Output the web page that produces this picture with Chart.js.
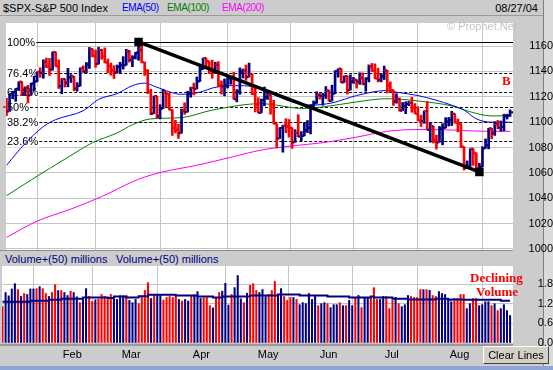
<!DOCTYPE html>
<html>
<head>
<meta charset="utf-8">
<title>$SPX-S&amp;P 500 Index</title>
<script src="https://cdn.jsdelivr.net/npm/chart.js@4.4.1/dist/chart.umd.min.js"></script>
<style>
  html, body { margin: 0; padding: 0; }
  body { width: 553px; height: 370px; background: #cccccc; position: relative; overflow: hidden;
         font-family: "Liberation Sans", Arial, sans-serif; font-size: 11px; color: #000; }
  .lbl { position: absolute; white-space: nowrap; line-height: 14px; }
  .ema { font-size: 10px; letter-spacing: -0.4px; }
  canvas { position: absolute; left: 0; }
  #topbar { position: absolute; left: 0; top: 0; width: 543px; height: 15px; border-bottom: 1px solid #9a9a9a; }
  #midline { position: absolute; left: 0; top: 250px; width: 513px; height: 1px; background: #8c8c8c; }
  #botline { position: absolute; left: 0; top: 344px; width: 513px; height: 2px; background: #9a9a9a; }
  #rightstrip { position: absolute; left: 543px; top: 0; width: 10px; height: 370px; background: #dadada; border-left: 1px solid #808080; }
  #bottomstrip { position: absolute; left: 0; top: 366px; width: 553px; height: 4px; background: #8fa6d4; }
  .serif { font-family: "Liberation Serif", "Times New Roman", serif; font-weight: bold; color: #ff0000; font-size: 13px; }
  #clear { position: absolute; left: 483px; top: 346px; width: 64px; height: 16px; background: #d4d0c8;
           border-top: 1px solid #fff; border-left: 1px solid #fff; border-right: 1px solid #404040; border-bottom: 1px solid #404040;
           text-align: center; line-height: 16px; font-size: 11px; }
</style>
</head>
<body>
<div id="topbar"></div>
<div id="midline"></div>
<div id="botline"></div>
<div id="rightstrip"></div>
<div id="bottomstrip"></div>

<div class="lbl" style="left:3px;top:1px">$SPX-S&amp;P 500 Index</div>
<div class="lbl ema" style="left:122px;top:1px;color:#0000ff">EMA(50)</div>
<div class="lbl ema" style="left:167px;top:1px;color:#008000">EMA(100)</div>
<div class="lbl ema" style="left:222px;top:1px;color:#ff00ff">EMA(200)</div>
<div class="lbl" style="right:15px;top:1px">08/27/04</div>
<div class="lbl" style="left:5px;top:252px;color:#000080">Volume+(50) millions</div>
<div class="lbl" style="left:116px;top:252px;color:#000080">Volume+(50) millions</div>

<canvas id="priceChart" width="553" height="245" style="top:17px"></canvas>
<canvas id="volChart" width="553" height="108" style="top:262px"></canvas>

<div class="lbl" style="left:447px;top:19px;color:#c4c4c4">&copy; Prophet.Net</div>
<div class="lbl serif" style="left:502px;top:74px">B</div>
<div class="lbl serif" style="left:470px;top:271px">Declining</div>
<div class="lbl serif" style="left:476px;top:285px">Volume</div>
<div id="clear">Clear Lines</div>

<script>
// daily bars, 2 Jan 2004 .. 27 Aug 2004 (index 0..164)
const opens = [
  1111.92, 1108.48, 1122.22, 1123.67, 1126.33, 1131.92, 1121.86, 1127.23, 1121.22, 1130.52, 1132.05, 1139.83, 1138.77, 1147.62, 1143.94, 1141.55, 1155.37, 1144.05, 1128.48, 1134.11,
  1131.13, 1135.26, 1136.03, 1126.52, 1128.59, 1142.76, 1139.81, 1145.54, 1157.76, 1152.11, 1145.81, 1156.99, 1151.82, 1147.06, 1144.11, 1140.99, 1139.09, 1143.67, 1144.91,
  1144.94, 1155.97, 1149.10, 1151.03, 1154.87, 1156.86, 1147.20, 1140.58, 1123.89, 1106.78, 1120.57, 1104.49, 1110.70, 1123.75, 1122.32, 1109.78, 1095.40, 1093.95, 1091.33, 1109.19, 1108.06, 1122.47, 1127.00,
  1126.21, 1132.17, 1141.81, 1150.57, 1148.16, 1140.53, 1139.32, 1145.20, 1129.44, 1128.17, 1128.84, 1134.61, 1135.82, 1118.15, 1124.09, 1139.93, 1140.60, 1135.53, 1138.11, 1122.41, 1113.89,
  1107.30, 1117.49, 1119.55, 1121.53, 1113.99, 1098.70, 1087.12, 1095.45, 1097.28, 1096.44, 1095.70, 1084.10, 1091.49, 1088.68, 1089.19, 1093.56, 1095.41, 1113.05, 1114.94, 1121.28,
  1120.68, 1121.20, 1124.99, 1116.64, 1122.50, 1140.42, 1142.18, 1131.33, 1136.47, 1125.29, 1132.01, 1133.56, 1132.05, 1135.02, 1130.30, 1134.41, 1144.06, 1140.65, 1134.43, 1133.35, 1136.20,
  1140.84, 1128.94, 1125.38, 1116.21, 1118.33, 1109.11, 1112.81, 1114.35, 1115.14, 1111.47, 1106.69, 1101.39, 1100.90, 1108.67, 1093.88, 1096.84, 1086.20, 1084.07, 1094.83, 1095.42, 1100.43,
  1101.72, 1106.62, 1099.69, 1098.63, 1080.70, 1063.97, 1065.22, 1079.04, 1075.79, 1063.23, 1064.80, 1079.34, 1081.71, 1095.17, 1091.23, 1098.35, 1095.68, 1096.19, 1104.96, 1105.09
];
const highs = [
  1118.85, 1122.22, 1124.46, 1126.33, 1131.92, 1131.92, 1127.85, 1129.07, 1130.75, 1136.23, 1139.83, 1142.93, 1149.21, 1150.51, 1150.31, 1155.38, 1155.37, 1149.14, 1134.39, 1134.17,
  1142.45, 1137.44, 1136.03, 1131.17, 1142.79, 1144.46, 1147.02, 1158.89, 1157.76, 1156.88, 1158.98, 1157.40, 1158.57, 1149.81, 1146.69, 1144.54, 1145.08, 1147.23, 1151.68,
  1157.45, 1156.54, 1152.44, 1154.97, 1163.23, 1159.94, 1147.32, 1141.45, 1125.96, 1120.63, 1120.57, 1113.76, 1125.76, 1123.75, 1122.72, 1109.78, 1101.52, 1098.32, 1110.38, 1115.27, 1124.37, 1127.60, 1130.83,
  1135.67, 1144.81, 1150.57, 1150.57, 1148.16, 1148.97, 1147.29, 1147.78, 1132.52, 1134.08, 1136.80, 1136.18, 1139.26, 1125.72, 1142.77, 1141.92, 1145.08, 1146.56, 1138.11, 1128.80, 1119.26,
  1118.22, 1127.74, 1125.07, 1121.53, 1117.30, 1098.70, 1095.71, 1097.55, 1102.77, 1102.10, 1095.70, 1094.10, 1105.93, 1092.62, 1099.64, 1101.28, 1113.80, 1116.71, 1123.95, 1122.69,
  1122.70, 1128.10, 1125.31, 1129.17, 1140.54, 1142.18, 1142.18, 1136.47, 1136.47, 1137.36, 1135.28, 1133.56, 1138.96, 1138.91, 1135.05, 1145.15, 1146.34, 1145.97, 1142.60, 1138.26, 1144.20,
  1140.84, 1131.72, 1125.38, 1122.37, 1119.12, 1115.57, 1116.11, 1116.30, 1119.60, 1114.63, 1112.17, 1105.52, 1108.88, 1116.27, 1099.66, 1096.84, 1089.82, 1096.65, 1098.84, 1103.51, 1103.73,
  1108.60, 1106.62, 1102.45, 1098.79, 1080.70, 1069.46, 1079.04, 1079.04, 1075.79, 1067.58, 1080.66, 1086.78, 1095.17, 1095.17, 1100.26, 1101.40, 1100.94, 1106.29, 1106.29, 1109.68
];
const lows = [
  1105.08, 1108.48, 1118.44, 1116.45, 1124.91, 1120.90, 1120.90, 1115.19, 1121.22, 1124.51, 1132.05, 1135.40, 1134.62, 1143.01, 1136.85, 1141.00, 1144.05, 1126.50, 1122.38, 1127.73,
  1127.87, 1131.33, 1124.74, 1124.44, 1128.39, 1139.21, 1138.70, 1142.33, 1151.44, 1143.24, 1145.81, 1149.54, 1146.85, 1139.00, 1136.98, 1134.43, 1138.64, 1138.62, 1141.80,
  1144.94, 1147.31, 1143.78, 1149.81, 1148.77, 1146.97, 1136.84, 1122.53, 1105.87, 1106.78, 1103.36, 1102.61, 1110.70, 1111.91, 1109.69, 1089.54, 1091.57, 1087.16, 1091.33, 1106.13, 1108.06, 1119.66, 1121.46,
  1126.20, 1132.17, 1141.64, 1143.30, 1138.41, 1134.52, 1139.32, 1127.70, 1122.15, 1120.75, 1126.90, 1129.84, 1118.09, 1116.03, 1121.95, 1134.81, 1132.91, 1135.53, 1121.70, 1108.04, 1107.23,
  1107.30, 1112.89, 1117.90, 1106.30, 1098.63, 1079.63, 1087.12, 1076.32, 1091.76, 1088.24, 1079.36, 1084.10, 1088.49, 1085.43, 1089.19, 1091.77, 1090.74, 1109.91, 1114.86, 1118.10,
  1113.32, 1118.64, 1116.57, 1116.64, 1122.50, 1135.45, 1131.17, 1131.33, 1122.16, 1125.29, 1130.55, 1126.89, 1129.83, 1129.43, 1124.37, 1131.73, 1139.94, 1134.24, 1131.72, 1131.81, 1133.62,
  1123.06, 1124.12, 1113.21, 1114.92, 1108.72, 1109.11, 1106.71, 1112.99, 1107.83, 1106.67, 1101.07, 1096.55, 1099.10, 1093.88, 1084.16, 1083.56, 1078.78, 1084.07, 1082.17, 1095.42, 1096.96,
  1097.34, 1099.26, 1092.40, 1079.98, 1062.23, 1063.97, 1065.22, 1065.92, 1062.82, 1060.72, 1064.80, 1079.34, 1078.93, 1086.91, 1089.57, 1094.73, 1092.82, 1093.24, 1102.46, 1104.62
];
const closes = [
  1108.48, 1122.22, 1123.67, 1126.33, 1131.92, 1121.86, 1127.23, 1121.22, 1130.52, 1132.05, 1139.83, 1138.77, 1147.62, 1143.94, 1141.55, 1155.37, 1144.05, 1128.48, 1134.11, 1131.13,
  1135.26, 1136.03, 1126.52, 1128.59, 1142.76, 1139.81, 1145.54, 1157.76, 1152.11, 1145.81, 1156.99, 1151.82, 1147.06, 1144.11, 1140.99, 1139.09, 1143.67, 1144.91, 1144.94,
  1155.97, 1149.10, 1151.03, 1154.87, 1156.86, 1147.20, 1140.58, 1123.89, 1106.78, 1120.57, 1104.49, 1110.70, 1123.75, 1122.32, 1109.78, 1095.40, 1093.95, 1091.33, 1109.19, 1108.06, 1122.47, 1127.00, 1126.21,
  1132.17, 1141.81, 1150.57, 1148.16, 1140.53, 1139.32, 1145.20, 1129.44, 1128.17, 1128.84, 1134.61, 1135.82, 1118.15, 1124.09, 1139.93, 1140.60, 1135.53, 1138.11, 1122.41, 1113.89, 1107.30,
  1117.49, 1119.55, 1121.53, 1113.99, 1098.70, 1087.12, 1095.45, 1097.28, 1096.44, 1095.70, 1084.10, 1091.49, 1088.68, 1089.19, 1093.56, 1095.41, 1113.05, 1114.94, 1121.28, 1120.68,
  1121.20, 1124.99, 1116.64, 1122.50, 1140.42, 1142.18, 1131.33, 1136.47, 1125.29, 1132.01, 1133.56, 1132.05, 1135.02, 1130.30, 1134.41, 1144.06, 1140.65, 1134.43, 1133.35, 1136.20, 1140.84,
  1128.94, 1125.38, 1116.21, 1118.33, 1109.11, 1112.81, 1114.35, 1115.14, 1111.47, 1106.69, 1101.39, 1100.90, 1108.67, 1093.88, 1096.84, 1086.20, 1084.07, 1094.83, 1095.42, 1100.43, 1101.72,
  1106.62, 1099.69, 1098.63, 1080.70, 1063.97, 1065.22, 1079.04, 1075.79, 1063.23, 1064.80, 1079.34, 1081.71, 1095.17, 1091.23, 1098.35, 1095.68, 1096.19, 1104.96, 1105.09, 1107.77
];
// volume in billions of shares
const volumes = [
  1.11, 1.54, 1.44, 1.65, 1.81, 1.63, 1.42, 1.51, 1.48, 1.65, 1.65, 1.66, 1.72, 1.66, 1.51, 1.42, 1.54, 1.78, 1.60, 1.60,
  1.54, 1.45, 1.58, 1.54, 1.41, 1.23, 1.34, 1.66, 1.42, 1.27, 1.32, 1.34, 1.48, 1.42, 1.39, 1.48, 1.34, 1.33, 1.44,
  1.44, 1.44, 1.30, 1.23, 1.33, 1.20, 1.43, 1.60, 1.84, 1.36, 1.45, 1.45, 1.45, 1.31, 1.39, 1.42, 1.39, 1.45, 1.33, 1.28, 1.33, 1.28, 1.43,
  1.47, 1.57, 1.36, 1.38, 1.39, 1.14, 1.07, 1.39, 1.54, 1.58, 1.82, 1.16, 1.48, 1.69, 2.06, 1.35, 1.23, 1.52, 1.76, 1.81, 1.60,
  1.54, 1.63, 1.42, 1.48, 1.60, 1.88, 1.48, 1.66, 1.42, 1.30, 1.39, 1.39, 1.33, 1.17, 1.23, 1.20, 1.51, 1.33, 1.42, 1.14,
  1.20, 1.23, 1.20, 1.08, 1.17, 1.17, 1.23, 1.14, 1.14, 1.30, 1.14, 1.39, 1.45, 1.08, 1.39, 1.39, 1.39, 1.69, 1.33, 1.33, 1.42,
  1.42, 1.05, 1.30, 1.39, 1.20, 1.11, 1.17, 1.45, 1.42, 1.39, 1.39, 1.63, 1.63, 1.63, 1.61, 1.45, 1.42, 1.57, 1.51, 1.48, 1.36,
  1.26, 1.36, 1.36, 1.48, 1.48, 1.05, 1.20, 1.36, 1.36, 1.14, 1.17, 1.26, 1.26, 1.14, 1.20, 0.99, 1.05, 1.17, 0.99, 0.84
];
// 50 day volume average, read where it steps
const volAvgAt  = [0, 9, 15, 19, 26, 34, 36, 40, 44, 47, 56, 63, 68, 71, 80, 89, 96, 105, 112, 119, 120, 126, 131, 140, 144, 145, 149, 161, 164];
const volAvgVal = [1.26, 1.29, 1.32, 1.35, 1.39, 1.37, 1.42, 1.39, 1.43, 1.47, 1.45, 1.42, 1.39, 1.42, 1.45, 1.48, 1.45, 1.42, 1.39, 1.42, 1.39, 1.35, 1.33, 1.35, 1.32, 1.33, 1.32, 1.29, 1.29];

// moving averages (day index, value)
const ema50At   = [0, 6, 12, 16, 25, 30, 36, 41, 45, 49, 57, 62, 69, 76, 82, 86, 93, 99, 106, 114, 124, 127, 134, 145, 149, 153, 158, 164];
const ema50Val  = [1066, 1083, 1096.5, 1102, 1109, 1118, 1122.5, 1128.8, 1130.8, 1127.5, 1122, 1123.1, 1128, 1128.8, 1127, 1122.8, 1116, 1113.4, 1115.2, 1121, 1125, 1123.6, 1121, 1113.4, 1109.5, 1102.6, 1100, 1100];
const ema100At  = [0, 8, 20, 28, 36, 41, 47, 57, 67, 83, 88, 96, 103, 114, 124, 134, 145, 151, 158, 164];
const ema100Val = [1042, 1054.4, 1072.3, 1083.8, 1091.5, 1098, 1102.6, 1103.6, 1109.5, 1114.6, 1113.4, 1110.8, 1112, 1116, 1118.5, 1116.7, 1112.8, 1108.2, 1104.9, 1105.2];
const ema200At  = [0, 10, 21, 31, 43, 51, 62, 73, 83, 93, 103, 114, 124, 134, 145, 156, 164];
const ema200Val = [1009.2, 1022, 1031.5, 1041.3, 1055, 1060.8, 1066, 1072.3, 1078, 1081.3, 1083.8, 1088.2, 1092.8, 1094.2, 1093.8, 1092.8, 1092.8];

// trend line from the March high to the August low, and Fibonacci levels
const trendAt  = [43, 154];
const trendVal = [1163.23, 1060.72];
const fibHigh = 1163.23;
const fibLow = 1060.72;
const fibLevels = [1, 0.764, 0.618, 0.5, 0.382, 0.236];
const fibLabels = ['100%', '76.4%', '61.8%', '50%', '38.2%', '23.6%'];

const monthStarts = [19.5, 38.5, 61.5, 82.5, 102.5, 123.5, 144.5];
const monthLabels = ['Feb', 'Mar', 'Apr', 'May', 'Jun', 'Jul', 'Aug'];
const priceTicks = [1000, 1020, 1040, 1060, 1080, 1100, 1120, 1140, 1160];
const volTicks = [0, 0.6, 1.2, 1.8];

const UP = '#000080', DOWN = '#ff0000';
const gridColor = '#c4c4c4';
const barColors = closes.map((c, i) => c < opens[i] ? DOWN : UP);

Chart.defaults.font.family = '"Liberation Sans", Arial, sans-serif';
Chart.defaults.font.size = 11;
Chart.defaults.color = '#000';

const whiteArea = {
  id: 'whiteArea',
  beforeDraw(chart) {
    const a = chart.chartArea;
    chart.ctx.save();
    chart.ctx.fillStyle = '#ffffff';
    chart.ctx.fillRect(a.left, a.top, a.right - a.left, a.bottom - a.top);
    chart.ctx.restore();
  }
};

const fibLines = {
  id: 'fibLines',
  beforeDatasetsDraw(chart) {
    const { ctx, chartArea: a, scales: { y } } = chart;
    ctx.save();
    ctx.font = '11px "Liberation Sans", Arial, sans-serif';
    ctx.textBaseline = 'middle';
    fibLevels.forEach((f, k) => {
      const py = Math.round(y.getPixelForValue(fibLow + f * (fibHigh - fibLow))) + 0.5;
      const w = ctx.measureText(fibLabels[k]).width;
      ctx.strokeStyle = '#000';
      ctx.lineWidth = 1;
      ctx.setLineDash(f === 1 ? [] : [3, 2]);
      ctx.beginPath();
      ctx.moveTo(a.left + w + 2, py);
      ctx.lineTo(a.right, py);
      ctx.stroke();
      ctx.fillStyle = '#fff';
      ctx.fillRect(a.left, py - 6, w + 2, 12);
      ctx.fillStyle = '#000';
      ctx.fillText(fibLabels[k], a.left + 1, py);
    });
    ctx.restore();
  }
};

// open tick on the left, close tick on the right of each high-low bar
const ohlcTicks = {
  id: 'ohlcTicks',
  afterDatasetDraw(chart, args) {
    if (args.index !== 1) return;
    const { ctx, scales: { x, y } } = chart;
    ctx.save();
    opens.forEach((o, i) => {
      const px = x.getPixelForValue(i);
      ctx.fillStyle = barColors[i];
      ctx.fillRect(px - 3, y.getPixelForValue(o) - 1, 2, 2);
      ctx.fillRect(px + 1, y.getPixelForValue(closes[i]) - 1, 2, 2);
    });
    ctx.restore();
  }
};

const xMin = -0.16, xMax = 164.94;
const setMonthTicks = s => { s.ticks = monthStarts.map(v => ({ value: v })); };

new Chart(document.getElementById('priceChart'), {
  type: 'line',
  data: {
    datasets: [
      {
        type: 'line',
        data: trendAt.map((d, k) => ({ x: d, y: trendVal[k] })),
        borderColor: '#000', borderWidth: 3.5,
        pointStyle: 'rect', pointRadius: 6, pointBackgroundColor: '#000', pointBorderWidth: 0
      },
      {
        type: 'bar',
        data: closes.map((c, i) => ({ x: i, y: [lows[i], highs[i]] })),
        backgroundColor: barColors,
        barThickness: 2
      },
      {
        type: 'line', data: ema50At.map((d, k) => ({ x: d, y: ema50Val[k] })),
        borderColor: '#0000ff', borderWidth: 1, pointRadius: 0, cubicInterpolationMode: 'monotone'
      },
      {
        type: 'line', data: ema100At.map((d, k) => ({ x: d, y: ema100Val[k] })),
        borderColor: '#008000', borderWidth: 1, pointRadius: 0, cubicInterpolationMode: 'monotone'
      },
      {
        type: 'line', data: ema200At.map((d, k) => ({ x: d, y: ema200Val[k] })),
        borderColor: '#ff00ff', borderWidth: 1, pointRadius: 0, cubicInterpolationMode: 'monotone'
      }
    ]
  },
  options: {
    responsive: false,
    animation: false,
    layout: { padding: { left: 2, top: 0, right: 0, bottom: 12 } },
    plugins: { legend: { display: false }, tooltip: { enabled: false } },
    scales: {
      x: {
        type: 'linear', min: xMin, max: xMax, offset: false,
        grid: { color: gridColor, drawTicks: false },
        border: { display: false },
        ticks: { display: false },
        afterBuildTicks: setMonthTicks,
        afterFit: s => { s.height = 0; s.paddingLeft = 0; s.paddingRight = 0; }
      },
      y: {
        position: 'right', min: 999.2, max: 1178.2,
        grid: { color: gridColor, drawTicks: false },
        border: { display: false },
        ticks: { padding: 5, crossAlign: 'far', callback: v => String(v) },
        afterBuildTicks: s => { s.ticks = priceTicks.map(v => ({ value: v })); },
        afterFit: s => { s.width = 40; s.paddingTop = 0; s.paddingBottom = 0; }
      }
    }
  },
  plugins: [whiteArea, fibLines, ohlcTicks]
});

new Chart(document.getElementById('volChart'), {
  type: 'bar',
  data: {
    datasets: [
      {
        type: 'line',
        data: volAvgAt.map((d, k) => ({ x: d, y: volAvgVal[k] })),
        borderColor: '#000080', borderWidth: 2, pointRadius: 0, stepped: true
      },
      {
        type: 'bar',
        data: volumes.map((v, i) => ({ x: i, y: v })),
        backgroundColor: barColors,
        barThickness: 1.4
      }
    ]
  },
  options: {
    responsive: false,
    animation: false,
    layout: { padding: { left: 2, top: 4, right: 0, bottom: 0 } },
    plugins: { legend: { display: false }, tooltip: { enabled: false } },
    scales: {
      x: {
        type: 'linear', min: xMin, max: xMax, offset: false,
        grid: { color: gridColor, drawTicks: false },
        border: { display: false },
        ticks: { align: 'start', padding: 5, autoSkip: false, maxRotation: 0, callback: (v, i) => monthLabels[i] },
        afterBuildTicks: setMonthTicks,
        afterFit: s => { s.height = 27; s.paddingLeft = 0; s.paddingRight = 0; }
      },
      y: {
        position: 'right', min: 0, max: 2.35,
        grid: { color: gridColor, drawTicks: false },
        border: { display: false },
        ticks: { padding: 13, crossAlign: 'far', callback: v => v.toFixed(1) },
        afterBuildTicks: s => { s.ticks = volTicks.map(v => ({ value: v })); },
        afterFit: s => { s.width = 40; s.paddingTop = 0; s.paddingBottom = 0; }
      }
    }
  },
  plugins: [whiteArea]
});
</script>
</body>
</html>
